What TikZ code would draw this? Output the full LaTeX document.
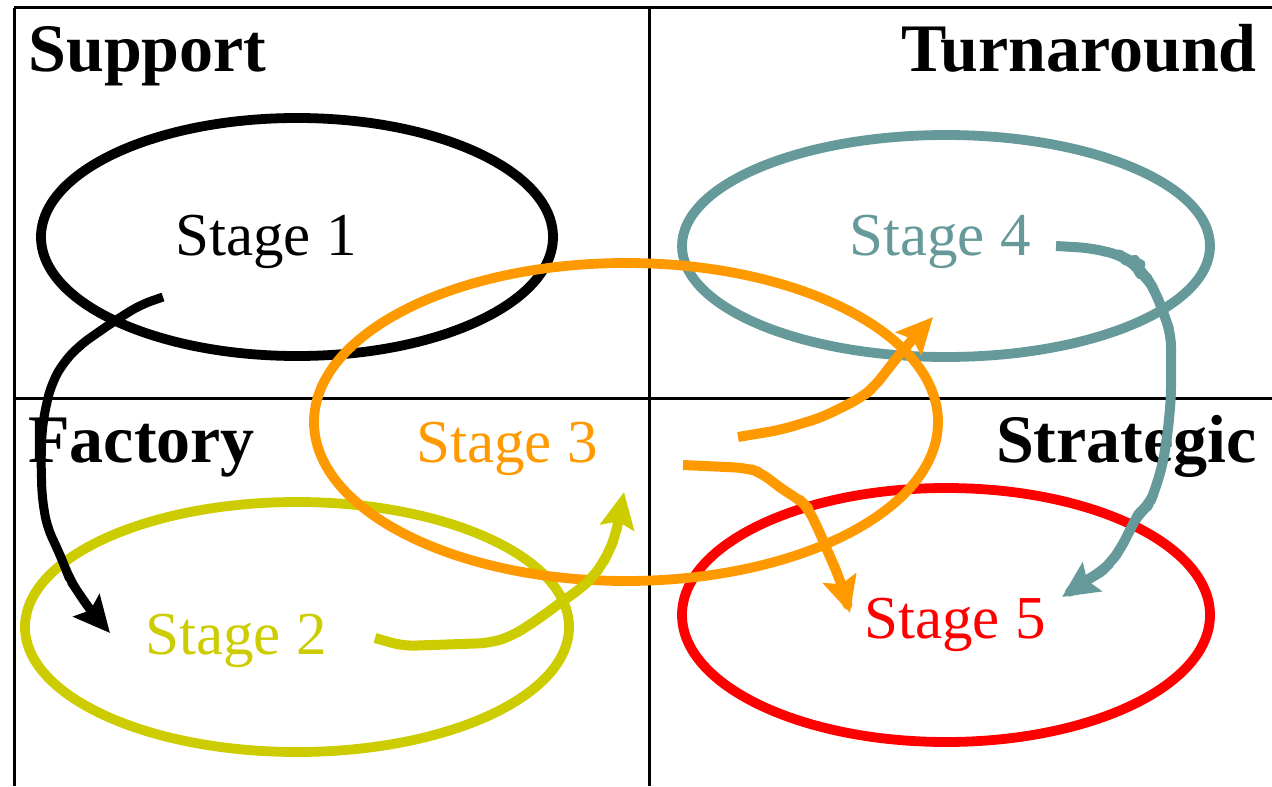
\documentclass[tikz,border=0pt]{standalone}
\usepackage{fontspec}
\setmainfont{Liberation Serif}
\newfontfamily\timesfont{Liberation Serif}
\usetikzlibrary{shapes.geometric,arrows.meta}

\definecolor{stgblack}{HTML}{000000}
\definecolor{stgyellow}{HTML}{CCCC00}
\definecolor{stgorange}{HTML}{FF9900}
\definecolor{stgteal}{HTML}{669999}
\definecolor{stgred}{HTML}{FF0000}

\tikzset{
  gridline/.style={line width=1.5pt, black},
  ring/.style={ellipse, draw, line width=4.9pt, inner sep=0pt},
  stagetext/.style={anchor=base, inner sep=0pt, font=\timesfont\fontsize{30.5}{36}\selectfont},
  quadlabel/.style={inner sep=0pt, font=\timesfont\bfseries\fontsize{34}{40}\selectfont},
  flow/.style={line width=5pt, line join=round, rounded corners=6pt,
    -{Stealth[length=18pt, width=17pt, inset=3pt]}},
}

\begin{document}
\begin{tikzpicture}[x=0.5pt, y=-0.5pt]
\useasboundingbox (0,0) rectangle (1272,786);

% quadrant grid
\draw[gridline] (14,8) -- (1272,8);
\draw[gridline] (14,8) -- (14,786);
\draw[gridline] (649,8) -- (649,786);
\draw[gridline] (14,398) -- (1272,398);

% quadrant names
\node[quadlabel, anchor=base west] (qsupport) at (28,72) {Support};
\node[quadlabel, anchor=base east] (qturn) at (1257,72) {Turnaround};
\node[quadlabel, anchor=base west] (qfactory) at (28,462) {Factory};
\node[quadlabel, anchor=base east] (qstrat) at (1257,462) {Strategic};

% stage rings
\node[ring, draw=stgblack,  minimum width=256pt, minimum height=119pt] (e1) at (297,237) {};
\node[ring, draw=stgyellow, minimum width=272pt, minimum height=125pt] (e2) at (297,627) {};
\node[ring, draw=stgteal,   minimum width=264pt, minimum height=111pt] (e4) at (946,246) {};
\node[ring, draw=stgred,    minimum width=264pt, minimum height=127pt] (e5) at (946,615) {};
\node[ring, draw=stgorange, minimum width=312pt, minimum height=159pt] (e3) at (626,422) {};

% stage names
\node[stagetext, text=stgblack]  (s1) at (266,256) {Stage 1};
\node[stagetext, text=stgyellow] (s2) at (236,654) {Stage 2};
\node[stagetext, text=stgorange] (s3) at (507,462) {Stage 3};
\node[stagetext, text=stgteal]   (s4) at (940,256) {Stage 4};
\node[stagetext, text=stgred]    (s5) at (955,638) {Stage 5};

% connector ends
\coordinate (a1s) at (163,297);  \coordinate (a1e) at (110,633);
\coordinate (a2s) at (375,638);  \coordinate (a2e) at (624,492);
\coordinate (a3s) at (738,437);  \coordinate (a3e) at (933,317);
\coordinate (a4s) at (683,465);  \coordinate (a4e) at (850,613);
\coordinate (a5s) at (1056,246); \coordinate (a5e) at (1062,597);

% flows between stages
\draw[flow, stgblack, line width=4.5pt]
  (a1s) -- (140,305) -- (113,322) -- (80,345) -- (63,363) -- (52,383) -- (46,405)
  -- (42,430) -- (41,460) -- (42,497) -- (47,527) -- (57,548) -- (65,567) -- (70,580)
  -- (78,592) -- (84,601) -- (92,612) -- (a1e);
\draw[flow, stgyellow]
  (a2s) -- (403,646) -- (490,643) -- (512,636) -- (537,620) -- (560,603) -- (580,589)
  -- (592,578) -- (603,563) -- (609,551) -- (615,537) -- (619,518) -- (a2e);
\draw[flow, stgorange]
  (a3s) -- (780,430) -- (820,418) -- (843,407) -- (862,397) -- (874,387) -- (885,373)
  -- (903,350) -- (a3e);
\draw[flow, stgorange]
  (a4s) -- (747,468) -- (762,473) -- (780,488) -- (800,500) -- (808,508) -- (820,533)
  -- (830,557) -- (837,572) -- (844,593) -- (a4e);
\draw[flow, stgteal]
  (a5s) -- (1090,248) -- (1120,255) -- (1129,261) -- (1136,263) -- (1139,271)
  -- (1147,278) -- (1155,291) -- (1165,317) -- (1171,335) -- (1171,397) -- (1168,430)
  -- (1163,463) -- (1155,490) -- (1149,505) -- (1139,513) -- (1133,524) -- (1120,550)
  -- (1110,563) -- (1101,572) -- (1090,578) -- (1080,585) -- (a5e);
\end{tikzpicture}
\end{document}
